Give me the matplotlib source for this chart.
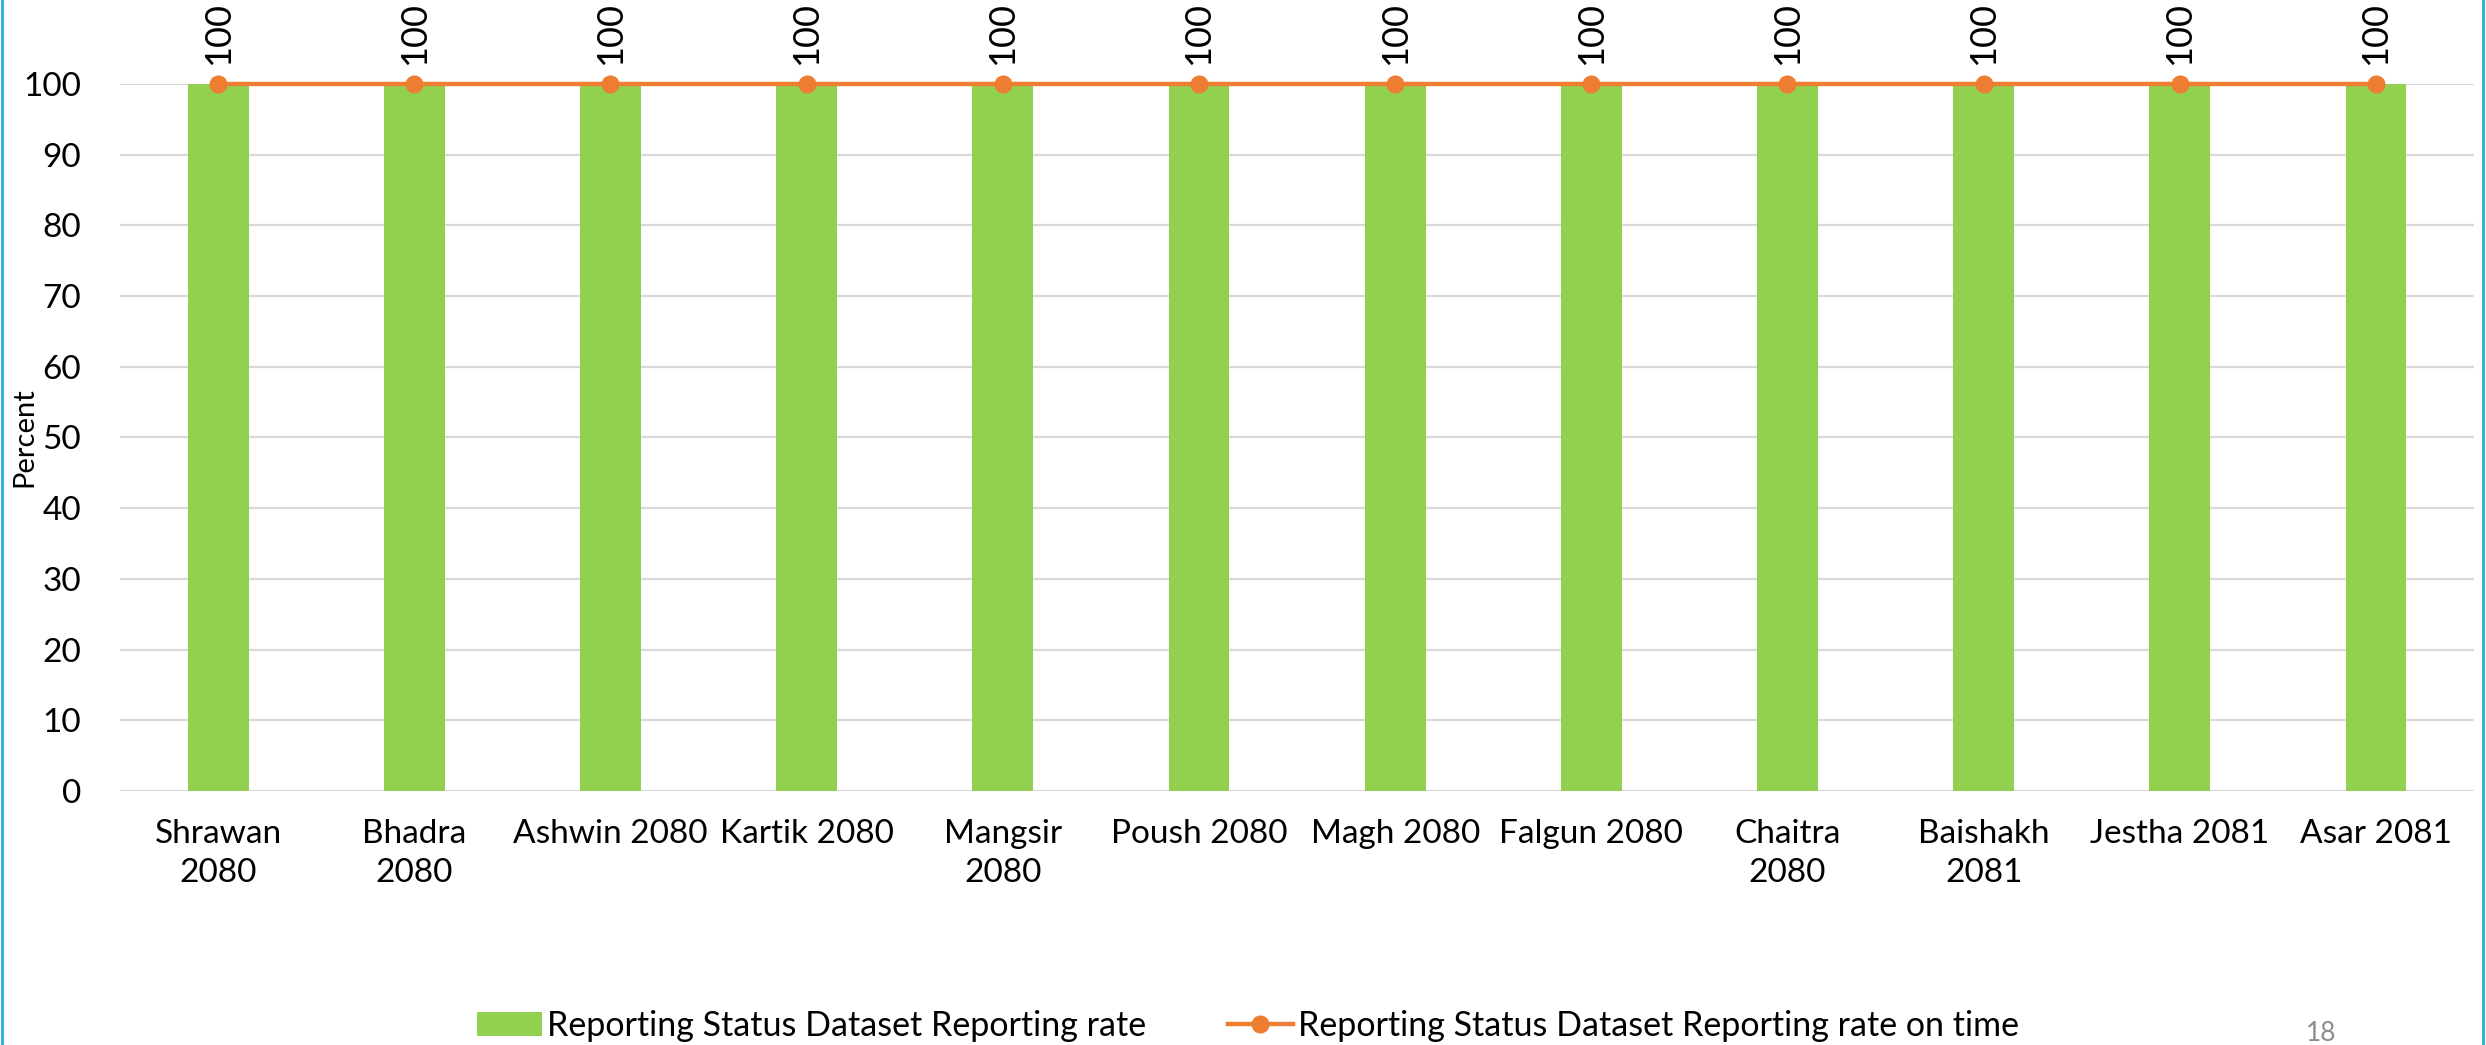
import numpy as np
import matplotlib.pyplot as plt
from matplotlib.lines import Line2D

months = ["Shrawan\n2080", "Bhadra\n2080", "Ashwin 2080", "Kartik 2080",
          "Mangsir\n2080", "Poush 2080", "Magh 2080", "Falgun 2080",
          "Chaitra\n2080", "Baishakh\n2081", "Jestha 2081", "Asar 2081"]
reporting_rate = [100, 100, 100, 100, 100, 100, 100, 100, 100, 100, 100, 100]
on_time_rate = [100, 100, 100, 100, 100, 100, 100, 100, 100, 100, 100, 100]
y_ticks = [0, 10, 20, 30, 40, 50, 60, 70, 80, 90, 100]

green = "#92D050"
orange = "#ED7D31"
font = ["Lato", "DejaVu Sans"]
plt.rcParams["font.family"] = font

fig = plt.figure(figsize=(24.86, 10.45), dpi=100)
ax = fig.add_axes([0.0483, 0.2431, 0.9469, 0.6765])

x = np.arange(len(months))
bars = ax.bar(x, reporting_rate, width=0.31, color=green, zorder=2)
line, = ax.plot(x, on_time_rate, color=orange, lw=3.2, marker="o", ms=12,
                zorder=3, clip_on=False)

for xi, v in zip(x, on_time_rate):
    ax.annotate(f"{v:g}", (xi, v), xytext=(0, 14), textcoords="offset points",
                rotation=90, ha="center", va="bottom", fontsize=26,
                annotation_clip=False)

ax.set_xlim(-0.5, len(months) - 0.5)
ax.set_ylim(0, 100)
ax.set_yticks(y_ticks)
ax.set_xticks(x)
ax.set_xticklabels(months, fontsize=24, linespacing=1.4)
for lab in ax.get_yticklabels():
    lab.set_fontsize(24)
ax.tick_params(axis="both", length=0)
ax.tick_params(axis="x", pad=20)
ax.tick_params(axis="y", pad=28)
ax.grid(axis="y", color="#D9D9D9", lw=1.6, zorder=0)
ax.set_axisbelow(True)
for s in ax.spines.values():
    s.set_visible(False)

fig.text(0.010, 0.582, "Percent", rotation=90, ha="center", va="center",
         fontsize=21)

fig.legend([bars, line],
           ["Reporting Status Dataset Reporting rate",
            "Reporting Status Dataset Reporting rate on time"],
           loc="center", bbox_to_anchor=(0.502, 0.018),
           ncol=2, frameon=False, fontsize=24.5,
           handlelength=1.9, handletextpad=0.15, columnspacing=2.4)

fig.text(0.9337, 0.011, "18", color="#8C8C8C", fontsize=19,
         ha="center", va="center")

# slide border
for xb in (0.001, 0.9988):
    fig.add_artist(Line2D([xb, xb], [0, 1], color="#29ABE2", lw=2,
                          transform=fig.transFigure))

fig.savefig("out.png", dpi=100)
